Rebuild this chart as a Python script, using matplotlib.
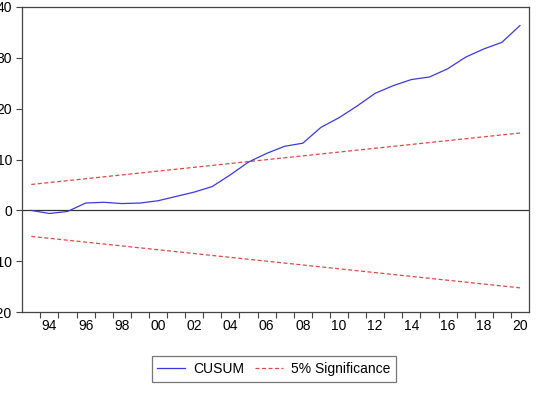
import matplotlib
matplotlib.use("Agg")
import matplotlib.pyplot as plt

plt.rcParams['font.family'] = ['Liberation Sans', 'DejaVu Sans']
plt.rcParams['axes.unicode_minus'] = False

# CUSUM test, annual, 1993-2020
years = list(range(1993, 2021))
cusum = [0.0, -0.6, -0.2, 1.45, 1.6, 1.35, 1.45, 1.9, 2.75, 3.6,
         4.7, 7.0, 9.5, 11.2, 12.6, 13.2, 16.3, 18.2, 20.5, 23.0,
         24.5, 25.7, 26.2, 27.8, 30.1, 31.7, 33.0, 36.3]

# 5% significance bounds (straight lines between the end years)
sig_years = [1993, 2020]
sig_upper = [5.1, 15.2]
sig_lower = [-5.1, -15.2]

yticks = [-20, -10, 0, 10, 20, 30, 40]
label_years = list(range(1994, 2021, 2))
year_labels = ['%02d' % (y % 100) for y in label_years]

fig = plt.figure(figsize=(5.36, 3.97), dpi=100)
ax = fig.add_axes([22.3 / 536, 1 - 312.3 / 397, (529 - 22.3) / 536, (312.3 - 6.7) / 397])

ax.axhline(0, color='#333333', lw=0.9, zorder=1)
ax.plot(years, cusum, color='#3a3ae0', lw=0.9, label='CUSUM', zorder=3)
ax.plot(sig_years, sig_upper, color='#e04848', lw=0.9, dashes=(3.2, 2),
        label='5% Significance', zorder=2)
ax.plot(sig_years, sig_lower, color='#e04848', lw=0.9, dashes=(3.2, 2), zorder=2)

ax.set_xlim(1992.5, 2020.5)
ax.set_ylim(-20, 40)
ax.set_yticks(yticks)
ax.set_yticklabels([str(v) for v in yticks])

# ticks at year boundaries, labels centred on the even years
ax.set_xticks([y + 0.5 for y in years[:-1]])
ax.set_xticklabels([])
ax.set_xticks(label_years, minor=True)
ax.set_xticklabels(year_labels, minor=True)
ax.tick_params(axis='x', which='minor', length=0, pad=5.0, labelsize=10)
ax.tick_params(axis='x', which='major', length=4, width=0.8, color='#444444')
ax.tick_params(axis='y', length=4.3, width=0.8, color='#444444', pad=3.2, labelsize=10)

for s in ax.spines.values():
    s.set_color('#444444')
    s.set_linewidth(0.9)

leg = fig.legend(loc='center', bbox_to_anchor=(274 / 536, 1 - 369 / 397), ncol=2,
                 fontsize=10, frameon=True, fancybox=False, edgecolor='#555555',
                 handlelength=2.0, handletextpad=0.6, columnspacing=0.8, borderpad=0.4)
leg.get_frame().set_linewidth(0.9)

fig.savefig('out.png', dpi=100)
